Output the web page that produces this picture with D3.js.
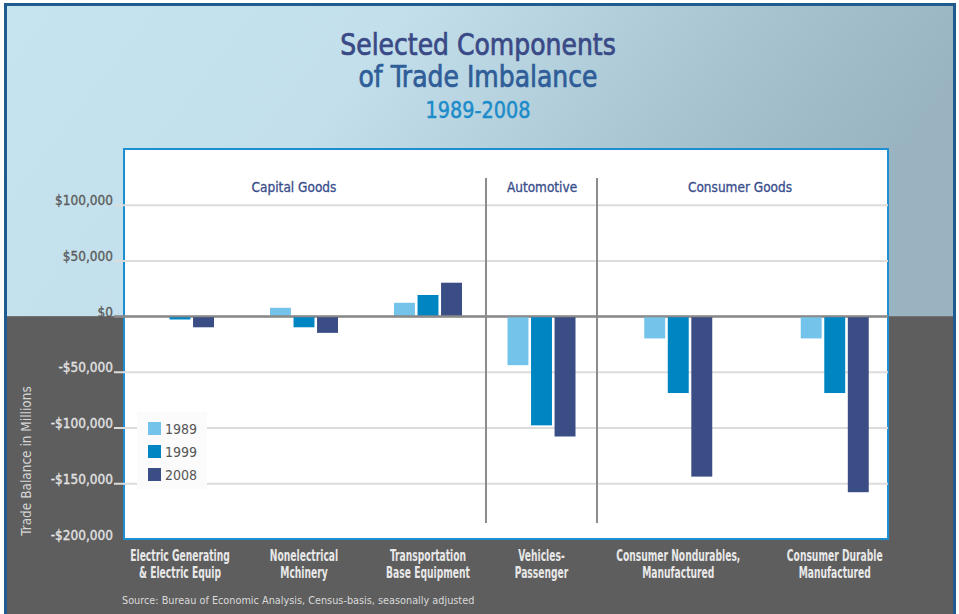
<!DOCTYPE html>
<html>
<head>
<meta charset="utf-8">
<script src="https://cdn.jsdelivr.net/npm/d3@7"></script>
<style>
  html, body { margin: 0; padding: 0; background: #fff; }
  svg { display: block; }
</style>
</head>
<body>
<svg id="chart" width="959" height="614"></svg>
<script>
// data (millions of dollars)
const categories = [
  ['Electric Generating', '& Electric Equip'],
  ['Nonelectrical', 'Mchinery'],
  ['Transportation', 'Base Equipment'],
  ['Vehicles-', 'Passenger'],
  ['Consumer Nondurables,', 'Manufactured'],
  ['Consumer Durable', 'Manufactured']
];
const sectionNames = ['Capital Goods', 'Automotive', 'Consumer Goods'];
const sectionOf = [0, 0, 0, 1, 2, 2];
const years = ['1989', '1999', '2008'];
const values1989 = [0, 7500, 12000, -44000, -20000, -20000];
const values1999 = [-3000, -10000, 19000, -98000, -69000, -69000];
const values2008 = [-10000, -15000, 30000, -108000, -144000, -158000];
const yTicks = [100000, 50000, 0, -50000, -100000, -150000, -200000];

const series = [values1989, values1999, values2008];
const colors = ['#74c3ea', '#0085c3', '#3a4d85'];

const W = 959, H = 614;
const plotL = 124, plotR = 888, plotT = 149, plotB = 539;
const dividers = [486, 597];
const sectionRanges = [[118, 490], [486, 597], [600, 913]];
const headerX = [294, 542, 740];

const svg = d3.select('#chart');
const font = '"DejaVu Sans Condensed", "DejaVu Sans", sans-serif';

// squeezed text, the original uses a condensed face
function squeezed(parent, x, yPos, str, sx) {
  return parent.append('g').attr('transform', `translate(${x},${yPos}) scale(${sx},1)`)
    .append('text').attr('text-anchor', 'middle').style('font-family', font).text(str);
}

const y = d3.scaleLinear().domain([-200000, 150000]).range([plotB, plotT]);
const y0 = y(0);

// background
const defs = svg.append('defs');
const grad = defs.append('linearGradient').attr('id', 'sky')
  .attr('x1', '0%').attr('y1', '0%').attr('x2', '100%').attr('y2', '25%');
grad.append('stop').attr('offset', '0%').attr('stop-color', '#c6e4f0');
grad.append('stop').attr('offset', '40%').attr('stop-color', '#c2dfeb');
grad.append('stop').attr('offset', '75%').attr('stop-color', '#a8c4d1');
grad.append('stop').attr('offset', '100%').attr('stop-color', '#99b3c0');

svg.append('rect').attr('x', 6).attr('y', 5).attr('width', 949).attr('height', y0 - 5)
  .attr('fill', 'url(#sky)');
svg.append('rect').attr('x', 6).attr('y', y0).attr('width', 949).attr('height', H - y0)
  .attr('fill', '#5e5e5e');
svg.append('rect').attr('x', 5.5).attr('y', 4.5).attr('width', 949).attr('height', H + 10)
  .attr('fill', 'none').attr('stroke', '#1f5b8e').attr('stroke-width', 3);

// titles (thin stroke to get the medium weight of the original)
squeezed(svg, 478, 55, 'Selected Components', 0.93)
  .style('font-size', '30px').attr('fill', '#3a4a86')
  .attr('stroke', '#3a4a86').attr('stroke-width', 0.7);
squeezed(svg, 478, 87, 'of Trade Imbalance', 0.93)
  .style('font-size', '30px').attr('fill', '#2f5d98')
  .attr('stroke', '#2f5d98').attr('stroke-width', 0.7);
squeezed(svg, 478, 118, '1989-2008', 0.93)
  .style('font-size', '23px').attr('fill', '#1c8bc9')
  .attr('stroke', '#1c8bc9').attr('stroke-width', 0.5);

// plot panel
svg.append('rect').attr('x', plotL).attr('y', plotT)
  .attr('width', plotR - plotL).attr('height', plotB - plotT)
  .attr('fill', '#fff').attr('stroke', '#1d8fd0').attr('stroke-width', 2);

// y axis with gridlines
const yAxis = d3.axisLeft(y).tickValues(yTicks)
  .tickSize(-(plotR - 114)).tickSizeOuter(0).tickPadding(1)
  .tickFormat(d => (d < 0 ? '-$' : '$') + d3.format(',')(Math.abs(d)));
const gy = svg.append('g').attr('transform', `translate(114,0)`).call(yAxis);
gy.select('.domain').remove();
gy.selectAll('.tick line')
  .attr('stroke', d => d === 0 ? '#8a8a8a' : '#dcdcdc')
  .attr('stroke-width', 2)
  .style('display', d => d === -200000 ? 'none' : null);
gy.selectAll('.tick text')
  .attr('dy', 0)
  .style('font-family', font).style('font-size', '13.5px')
  .attr('fill', d => d < 0 ? '#e4e4e4' : '#5a5a5a')
  .attr('stroke', d => d < 0 ? '#e4e4e4' : '#5a5a5a').attr('stroke-width', 0.3);

// y axis title
svg.append('text').attr('transform', 'translate(31,461) rotate(-90)')
  .attr('text-anchor', 'middle')
  .style('font-family', font).style('font-size', '13.5px').attr('fill', '#d6d6d6')
  .text('Trade Balance in Millions');

// section dividers and headers
svg.selectAll('.divider').data(dividers).enter().append('line')
  .attr('x1', d => d).attr('x2', d => d).attr('y1', 178).attr('y2', 523)
  .attr('stroke', '#8c8c8c').attr('stroke-width', 2);
svg.selectAll('.header').data(sectionNames).enter().append('text')
  .attr('x', (d, i) => headerX[i]).attr('y', 192).attr('text-anchor', 'middle')
  .style('font-family', font).style('font-size', '13.5px').attr('fill', '#3a4e8c')
  .attr('stroke', '#3a4e8c').attr('stroke-width', 0.3)
  .text(d => d);

// x scales: one band scale per section, inner band scale for years
const sectionScales = sectionRanges.map((r, s) =>
  d3.scaleBand()
    .domain(categories.map((c, i) => i).filter(i => sectionOf[i] === s))
    .range(r).padding(0));
const xCenter = i => {
  const sc = sectionScales[sectionOf[i]];
  return sc(i) + sc.bandwidth() / 2;
};
const xYear = d3.scaleBand().domain(years).range([-34, 34]).paddingInner(0.11);

const bars = [];
categories.forEach((c, i) => {
  years.forEach((yr, k) => bars.push({ cat: i, year: yr, k, value: series[k][i] }));
});

svg.append('g').selectAll('rect').data(bars).enter().append('rect')
  .attr('x', d => xCenter(d.cat) + xYear(d.year))
  .attr('width', xYear.bandwidth())
  .attr('y', d => y(Math.max(0, d.value)))
  .attr('height', d => Math.abs(y(d.value) - y0))
  .attr('fill', d => colors[d.k]);

// zero line on top of bars
svg.append('line').attr('x1', 114).attr('x2', plotR).attr('y1', y0).attr('y2', y0)
  .attr('stroke', '#8a8a8a').attr('stroke-width', 2);

// legend
const lg = svg.append('g');
lg.append('rect').attr('x', 137).attr('y', 412).attr('width', 70).attr('height', 77)
  .attr('fill', '#fbfbfb');
years.forEach((yr, k) => {
  const cy = 429 + k * 23;
  lg.append('rect').attr('x', 148).attr('y', cy - 7).attr('width', 13).attr('height', 13)
    .attr('fill', colors[k]);
  lg.append('text').attr('x', 165).attr('y', cy + 5)
    .style('font-family', font).style('font-size', '14px').attr('fill', '#555')
    .text(yr);
});

// category labels
categories.forEach((lines, i) => {
  lines.forEach((line, j) => {
    squeezed(svg, xCenter(i), 561 + j * 16.5, line, 0.68)
      .style('font-size', '15px').style('font-weight', 'bold').attr('fill', '#e8e8e8');
  });
});

// source
svg.append('text').attr('x', 122).attr('y', 604)
  .style('font-family', font).style('font-size', '10.8px').attr('fill', '#dadada')
  .text('Source: Bureau of Economic Analysis, Census-basis, seasonally adjusted');
</script>
</body>
</html>
